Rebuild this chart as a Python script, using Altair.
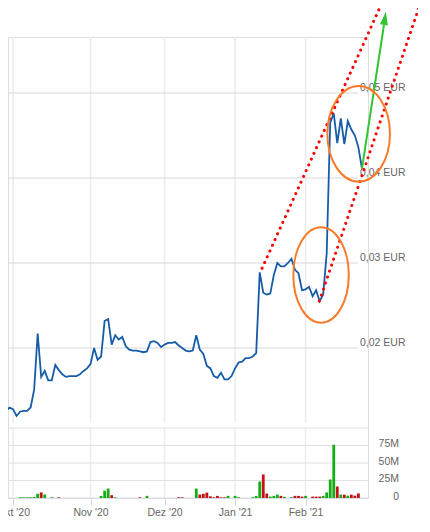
import json
import altair as alt
import pandas as pd

# ---------------- data (x = trading-day index, 0 = 1 Oct 2020) ----------------
price_idx = list(range(-2, 100))
price_val = [
    0.0126, 0.0130, 0.0128, 0.0120, 0.0125, 0.0126, 0.0126, 0.0130, 0.0151, 0.0217,
    0.0166, 0.0173, 0.0162, 0.0162, 0.0180, 0.0174, 0.0169, 0.0166, 0.0167, 0.0167,
    0.0167, 0.0169, 0.0173, 0.0176, 0.0181, 0.0200, 0.0186, 0.0190, 0.0232, 0.0234,
    0.0204, 0.0215, 0.0210, 0.0213, 0.0202, 0.0198, 0.0197, 0.0197, 0.0196, 0.0195,
    0.0196, 0.0207, 0.0208, 0.0206, 0.0201, 0.0204, 0.0206, 0.0206, 0.0207, 0.0203,
    0.0200, 0.0197, 0.0196, 0.0197, 0.0215, 0.0198, 0.0193, 0.0179, 0.0176, 0.0167,
    0.0165, 0.0171, 0.0163, 0.0163, 0.0167, 0.0176, 0.0183, 0.0184, 0.0188, 0.0188,
    0.0190, 0.0194, 0.0289, 0.0265, 0.0263, 0.0264, 0.0286, 0.0300, 0.0296, 0.0296,
    0.0300, 0.0305, 0.0292, 0.0288, 0.0268, 0.0269, 0.0272, 0.0261, 0.0268, 0.0255,
    0.0263, 0.0311, 0.0465, 0.0476, 0.0441, 0.0470, 0.0440, 0.0467, 0.0457, 0.0450,
    0.0436, 0.0411,
]

vol_idx = [-2, 2, 3, 4, 5, 6, 7, 8, 9, 11, 13, 25, 26, 27, 28, 29, 36, 38, 47, 48,
           52, 53, 54, 55, 56, 57, 58, 59, 60, 61, 63, 64, 68, 69, 70, 71, 72, 73, 74, 75,
           76, 77, 79, 80, 81, 82, 83, 85, 86, 87, 88, 89, 90, 91, 92, 93, 94, 95, 96, 97, 98]
vol_m = [1, 1, 1, 1, 1, 1.5, 6, 8, 5, 1, 1, 3, 10.5, 13.5, 4, 1, 1, 3, 1, 1,
         13.5, 5, 6, 7.7, 2.4, 1, 3, 1, 1, 3, 3, 1, 1, 3, 23.6, 33.7, 6.3, 2, 3, 4.8,
         3, 1.5, 1, 3, 3, 2, 3, 2, 2, 2, 3, 8, 26.5, 76, 16.4, 4.8, 4.8, 3.4, 4.8, 3.4, 6.5]
vol_dir = ["d", "u", "u", "u", "u", "u", "u", "d", "u", "u", "d", "u", "u", "u", "d", "u", "d", "u", "d", "d",
           "u", "d", "d", "d", "d", "d", "d", "d", "d", "u", "u", "u", "u", "u", "u", "d", "d", "u", "u", "u",
           "d", "u", "u", "d", "d", "d", "u", "d", "d", "d", "u", "u", "u", "u", "d", "u", "d", "u", "d", "d", "d"]

month_idx = [0, 22, 43, 63, 83]
month_lab = ["Okt '20", "Nov '20", "Dez '20", "Jan '21", "Feb '21"]

price_ticks = [0.02, 0.03, 0.04, 0.05]
price_tick_lab = ["0,02 EUR", "0,03 EUR", "0,04 EUR", "0,05 EUR"]

vol_ticks = [0, 25, 50, 75, 100]
vol_tick_lab = ["0", "25M", "50M", "75M", ""]

# annotations (drawn in data coordinates)
chan_g = ["upper", "upper", "lower", "lower"]
chan_i = [70.66, 105.05, 86.93, 115.9]
chan_p = [0.02938, 0.06094, 0.02553, 0.06094]

arrow_i = [99.0, 105.25]
arrow_p = [0.0411, 0.0580]
arrow_head_i = [105.51]
arrow_head_p = [0.05879]

ell_up_i, ell_up_p = [98.07], [0.04520]
ell_lo_i, ell_lo_p = [87.40], [0.02859]

# ---------------- layout ----------------
W, H = 360, 461
PRICE_BOTTOM = 386
VOL_TOP, VOL_BOTTOM = 391, 461
FONT = "Liberation Sans"
LABEL = "#666666"
GRID_H = "#d9d9d9"
GRID_V = "#ececec"

xs = alt.Scale(domain=[0, 99.3], nice=False, zero=False)
ps = alt.Scale(domain=[0.011176, 0.056588], range=[PRICE_BOTTOM, 0], nice=False, zero=False)
vs = alt.Scale(domain=[0, 100], range=[VOL_BOTTOM, VOL_TOP], nice=False, zero=False)

label_expr = f"{json.dumps(month_lab)}[indexof({json.dumps(month_idx)}, datum.value)]"
x_axis = alt.Axis(values=month_idx, labelExpr=label_expr, grid=False, title=None,
                  domainColor="#ccd6eb", tickColor="#ccd6eb", tickSize=7, labelPadding=2,
                  labelColor=LABEL, labelFontSize=10.5, labelFont=FONT, labelFlush=False)


def X():
    return alt.X("i:Q", scale=xs, axis=x_axis)


def YP():
    return alt.Y("p:Q", scale=ps, axis=None)


def YV():
    return alt.Y("v:Q", scale=vs, axis=None)


price_df = pd.DataFrame({"i": price_idx, "p": price_val})
vol_df = pd.DataFrame({"i": vol_idx, "v": vol_m, "d": vol_dir})
month_df = pd.DataFrame({"i": month_idx})
ptick_df = pd.DataFrame({"p": price_ticks, "t": price_tick_lab})
vtick_df = pd.DataFrame({"v": vol_ticks, "t": vol_tick_lab})
chan_df = pd.DataFrame({"g": chan_g, "i": chan_i, "p": chan_p})
arrow_df = pd.DataFrame({"i": arrow_i, "p": arrow_p})
head_df = pd.DataFrame({"i": arrow_head_i, "p": arrow_head_p})
eu_df = pd.DataFrame({"i": ell_up_i, "p": ell_up_p})
el_df = pd.DataFrame({"i": ell_lo_i, "p": ell_lo_p})


def ellipse_path(a):
    k = 0.5523
    return (f"M0,-1C{k*a:.4f},-1 {a:.4f},{-k:.4f} {a:.4f},0"
            f"C{a:.4f},{k:.4f} {k*a:.4f},1 0,1"
            f"C{-k*a:.4f},1 {-a:.4f},{k:.4f} {-a:.4f},0"
            f"C{-a:.4f},{-k:.4f} {-k*a:.4f},-1 0,-1Z")


# grid
vgrid_price = alt.Chart(month_df).mark_rule(color=GRID_V, strokeWidth=1.5).encode(
    x=X(), y=alt.value(0), y2=alt.value(PRICE_BOTTOM))
vgrid_vol = alt.Chart(month_df).mark_rule(color=GRID_V, strokeWidth=1.5).encode(
    x=X(), y=alt.value(VOL_TOP), y2=alt.value(VOL_BOTTOM))
hgrid_price = alt.Chart(ptick_df).mark_rule(color=GRID_H, strokeWidth=1).encode(
    y=YP(), x=alt.value(0), x2=alt.value(350))
hgrid_vol = alt.Chart(vtick_df).mark_rule(color="#e0e0e0", strokeWidth=1).encode(
    y=YV(), x=alt.value(0), x2=alt.value(W))

plabels = alt.Chart(ptick_df).mark_text(align="left", baseline="alphabetic", dy=-2,
                                        font=FONT, fontSize=10.5, color=LABEL).encode(
    y=YP(), x=alt.value(352), text="t:N")
vlabels = alt.Chart(vtick_df).mark_text(align="right", baseline="middle", dy=-1.5,
                                        font=FONT, fontSize=10.5, color=LABEL).encode(
    y=YV(), x=alt.value(391), text="t:N")

bars = alt.Chart(vol_df).mark_bar(size=2.8, clip=True).encode(
    x=X(), y=YV(),
    color=alt.Color("d:N", scale=alt.Scale(domain=["u", "d"], range=["#14ad14", "#c4121a"]), legend=None))

line = alt.Chart(price_df).mark_line(color="#165ca6", strokeWidth=1.8, clip=True).encode(
    x=X(), y=YP())

chan = alt.Chart(chan_df).mark_line(color="#ff0000", strokeWidth=3, strokeCap="round",
                                    strokeDash=[0.1, 6.2]).encode(x=X(), y=YP(), detail="g:N")

arrow = alt.Chart(arrow_df).mark_line(color="#33c433", strokeWidth=2).encode(x=X(), y=YP())
head = alt.Chart(head_df).mark_point(shape="M0,-1L0.6,1L-0.6,1Z", filled=True, size=177,
                                     angle=8.3, color="#33c433", opacity=1).encode(x=X(), y=YP())

ell_up = alt.Chart(eu_df).mark_point(shape=ellipse_path(0.655), size=9139, filled=False,
                                     color="#f77b2a", strokeWidth=2, opacity=1).encode(x=X(), y=YP())
ell_lo = alt.Chart(el_df).mark_point(shape=ellipse_path(0.581), size=9101, filled=False,
                                     color="#f77b2a", strokeWidth=2, opacity=1).encode(x=X(), y=YP())

chart = alt.layer(
    vgrid_price, vgrid_vol, hgrid_price, hgrid_vol, bars, line, plabels, vlabels,
    chan, arrow, head, ell_up, ell_lo,
).resolve_scale(y="independent").properties(
    width=W, height=H,
    autosize=alt.AutoSizeParams(type="none"),
    padding={"left": 0, "top": 29, "right": 50, "bottom": 20},
).configure_view(stroke=None).configure(background="white")

chart.save("out.html", embed_options={"renderer": "svg", "actions": False})
